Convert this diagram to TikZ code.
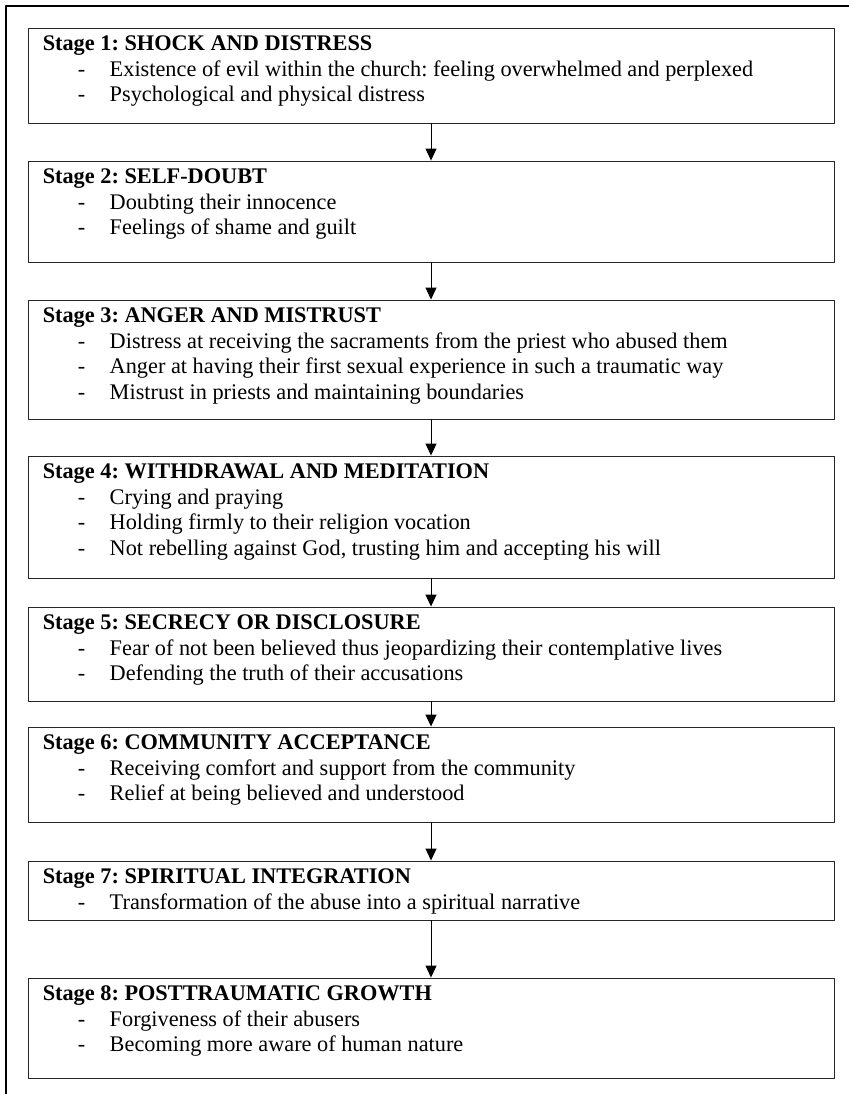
\documentclass[tikz,border=0pt]{standalone}
\usepackage{fontspec}
\setmainfont{Liberation Serif}
\usetikzlibrary{arrows.meta}
\frenchspacing
\newcommand{\bul}[1]{\\\hspace*{35pt}\makebox[32pt][l]{-}#1}
\tikzset{
  stagebox/.style={draw=black!85, line width=0.9pt, minimum width=806pt, inner sep=0pt},
  stagetext/.style={anchor=north west, align=left, inner sep=0pt},
}
\begin{document}
\begin{tikzpicture}[x=1pt,y=1pt,font=\fontsize{22.3}{25.6}\selectfont,line join = round, >= {Triangle[width=11pt,length=12pt]}]
			\useasboundingbox (0,0) rectangle (849,-1094);
			\draw[line width=2pt] (6,-1094)--(6,-6)--(849,-6);
			% boxes: name / top / bottom
			\foreach \n/\t/\b in {s1/28/123,s2/161/262,s3/300/419,s4/456/578,s5/607/701,s6/727/822,s7/861/920,s8/978/1078}
				\node[stagebox, minimum height={\b-\t}] (\n) at (431,{-(\t+\b)/2}) {};
			\node[stagetext] (t1) at ([shift={(15,-5)}]s1.north west) {\strut\textbf{Stage 1: SHOCK AND DISTRESS}
				\bul{Existence of evil within the church: feeling overwhelmed and perplexed}
				\bul{Psychological and physical distress}};
			\node[stagetext] (t2) at ([shift={(15,-5)}]s2.north west) {\strut\textbf{Stage 2: SELF-DOUBT}
				\bul{Doubting their innocence}
				\bul{Feelings of shame and guilt}};
			\node[stagetext] (t3) at ([shift={(15,-5)}]s3.north west) {\strut\textbf{Stage 3: ANGER AND MISTRUST}
				\bul{Distress at receiving the sacraments from the priest who abused them}
				\bul{Anger at having their first sexual experience in such a traumatic way}
				\bul{Mistrust in priests and maintaining boundaries}};
			\node[stagetext] (t4) at ([shift={(15,-5)}]s4.north west) {\strut\textbf{Stage 4: WITHDRAWAL AND MEDITATION}
				\bul{Crying and praying}
				\bul{Holding firmly to their religion vocation}
				\bul{Not rebelling against God, trusting him and accepting his will}};
			\node[stagetext] (t5) at ([shift={(15,-5)}]s5.north west) {\strut\textbf{Stage 5: SECRECY OR DISCLOSURE}
				\bul{Fear of not been believed thus jeopardizing their contemplative lives}
				\bul{Defending the truth of their accusations}};
			\node[stagetext] (t6) at ([shift={(15,-5)}]s6.north west) {\strut\textbf{Stage 6: COMMUNITY ACCEPTANCE}
				\bul{Receiving comfort and support from the community}
				\bul{Relief at being believed and understood}};
			\node[stagetext] (t7) at ([shift={(15,-5)}]s7.north west) {\strut\textbf{Stage 7: SPIRITUAL INTEGRATION}
				\bul{Transformation of the abuse into a spiritual narrative}};
			\node[stagetext] (t8) at ([shift={(15,-5)}]s8.north west) {\strut\textbf{Stage 8: POSTTRAUMATIC GROWTH}
				\bul{Forgiveness of their abusers}
				\bul{Becoming more aware of human nature}};
			\foreach \a/\b in {s1/s2,s2/s3,s3/s4,s4/s5,s5/s6,s6/s7,s7/s8}
				\draw[->, line width=1pt] (\a)--(\b);
		\end{tikzpicture}
\end{document}
